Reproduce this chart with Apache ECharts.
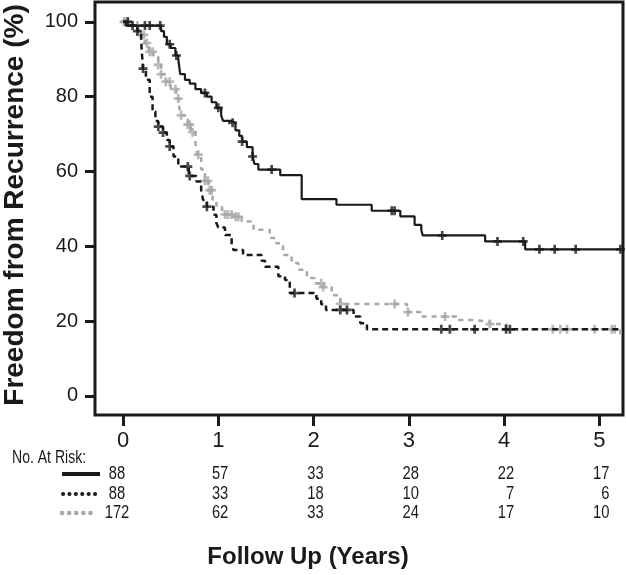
<!DOCTYPE html>
<html><head><meta charset="utf-8">
<script src="https://cdn.jsdelivr.net/npm/echarts@6/dist/echarts.min.js"></script>
<style>html,body{margin:0;padding:0;background:#fff}#c{width:626px;height:575px}</style>
</head><body><div id="c"></div>
<script>
const xTicks = [0, 1, 2, 3, 4, 5];
const yTicks = [0, 20, 40, 60, 80, 100];

// Group 1 (solid black)
const solidT = [0, 0.03, 0.40, 0.43, 0.46, 0.50, 0.55, 0.58, 0.60, 0.65, 0.70, 0.76, 0.82, 0.88, 0.93, 0.98, 1.03, 1.05, 1.13, 1.18, 1.22, 1.25, 1.30, 1.36, 1.38, 1.42, 1.65, 1.875, 2.24, 2.61, 2.91, 3.06, 3.13, 3.145, 3.80, 4.22, 5.23];
const solidS = [100, 99, 97.5, 96, 94, 93, 91, 90, 86, 84.5, 83.5, 82, 81, 80, 78.5, 77, 75, 73.5, 73, 71, 69.5, 68, 66.5, 64, 62, 60.5, 59, 52.6, 51.1, 49.5, 48, 45.7, 44.4, 42.9, 41.3, 39.2, 39.2];
const solidCensor = [0.10, 0.23, 0.28, 0.39, 0.49, 0.56, 0.86, 1.0, 1.15, 1.25, 1.36, 1.56, 2.82, 2.85, 3.35, 3.93, 4.20, 4.37, 4.53, 4.75, 5.22];

// Group 2 (dashed black)
const dashT = [0, 0.08, 0.15, 0.19, 0.20, 0.21, 0.24, 0.28, 0.31, 0.34, 0.37, 0.42, 0.46, 0.49, 0.53, 0.58, 0.69, 0.77, 0.82, 0.84, 0.88, 0.95, 0.98, 1.0, 1.07, 1.14, 1.16, 1.26, 1.455, 1.49, 1.63, 1.70, 1.75, 2.03, 2.08, 2.13, 2.42, 2.49, 2.56, 5.23];
const dashS = [100, 99, 97.5, 95, 91, 87.5, 84.5, 80, 76, 73.5, 72, 70.4, 68.4, 66.7, 64, 61.3, 58.8, 57.3, 55, 52.4, 50.6, 48.4, 46.2, 45, 43, 40.5, 39, 37.7, 36.1, 34.5, 32, 31, 27.5, 26, 24.5, 23, 21.2, 19.4, 17.8, 17.8];
const dashCensor = [0.05, 0.15, 0.21, 0.37, 0.42, 0.49, 0.68, 0.70, 0.88, 1.80, 2.28, 2.35, 3.34, 3.43, 3.69, 4.02, 4.06];

// Group 3 (dashed grey)
const greyT = [0, 0.07, 0.16, 0.19, 0.23, 0.27, 0.32, 0.37, 0.40, 0.45, 0.50, 0.56, 0.59, 0.61, 0.68, 0.71, 0.76, 0.78, 0.82, 0.86, 0.90, 0.94, 0.98, 1.04, 1.16, 1.245, 1.37, 1.54, 1.61, 1.68, 1.77, 1.84, 1.93, 2.01, 2.10, 2.19, 2.28, 2.98, 3.12, 3.50, 3.68, 3.85, 4.02, 5.22];
const greyS = [100, 99, 97.5, 96.5, 94.3, 92, 90.7, 88.5, 86, 84, 82, 79.5, 77, 75, 72.5, 70.5, 67.5, 64.5, 60.5, 57.5, 55, 52.5, 50.5, 48.5, 47.9, 46.6, 44.4, 42.2, 40.8, 37.7, 35.5, 33.7, 31.5, 30.1, 29.1, 26.9, 24.6, 22.4, 21.2, 20.3, 19.8, 19.2, 17.8, 15.5];
const greyCensor = [0.01, 0.02, 0.05, 0.15, 0.19, 0.22, 0.25, 0.28, 0.31, 0.37, 0.40, 0.45, 0.49, 0.55, 0.58, 0.61, 0.68, 0.70, 0.73, 0.79, 0.86, 0.89, 0.91, 0.93, 1.07, 1.10, 1.14, 1.18, 1.21, 2.08, 2.10, 2.28, 2.85, 2.99, 3.38, 3.85, 4.51, 4.59, 4.66, 4.95, 5.13, 5.16];

// Numbers at risk
const riskSolid = [88, 57, 33, 28, 22, 17];
const riskDashed = [88, 33, 18, 10, 7, 6];
const riskGrey = [172, 62, 33, 24, 17, 10];

const BLACK = '#1a1a1a';
const GREY = '#a8a8a8';
const FONT = "'Liberation Sans', Arial, Helvetica, sans-serif";
const PLUS = 'path://M3.5,0h3v3.5h3.5v3h-3.5v3.5h-3v-3.5h-3.5v-3h3.5z';

function pairs(T, S) { return T.map((t, i) => [t, S[i]]); }
function levelAt(T, S, t) {
  let v = S[0];
  for (let i = 0; i < T.length; i++) { if (T[i] <= t) v = S[i]; else break; }
  return v;
}
function censor(T, S, C) { return C.map(t => [t, levelAt(T, S, t)]); }

const chart = echarts.init(document.getElementById('c'), null, { renderer: 'canvas' });

const option = {
  animation: false,
  backgroundColor: '#fff',
  grid: { left: 95, right: 3, top: 2, bottom: 160, show: true, borderColor: BLACK, borderWidth: 3, backgroundColor: 'transparent' },
  xAxis: {
    type: 'value', min: -0.294, max: 5.247,
    axisLine: { show: false, onZero: false },
    splitLine: { show: false },
    axisTick: { show: true, inside: false, length: 11, lineStyle: { color: BLACK, width: 3 }, customValues: xTicks },
    axisLabel: { show: true, margin: 15, fontSize: 22, color: BLACK, fontFamily: FONT, customValues: xTicks }
  },
  yAxis: {
    type: 'value', min: -5.1, max: 105.3,
    axisLine: { show: false, onZero: false },
    splitLine: { show: false },
    axisTick: { show: true, inside: false, length: 10, lineStyle: { color: BLACK, width: 3 }, customValues: yTicks },
    axisLabel: { show: true, margin: 17, fontSize: 20, color: BLACK, fontFamily: FONT, customValues: yTicks }
  },
  series: [
    { type: 'line', step: 'end', symbol: 'none', data: pairs(greyT, greyS), lineStyle: { color: GREY, width: 2.5, type: [5, 5] }, z: 2 },
    { type: 'scatter', symbol: PLUS, symbolSize: 9, data: censor(greyT, greyS, greyCensor), itemStyle: { color: GREY }, z: 3 },
    { type: 'line', step: 'end', symbol: 'none', data: pairs(dashT, dashS), lineStyle: { color: BLACK, width: 2.5, type: [6, 4] }, z: 4 },
    { type: 'scatter', symbol: PLUS, symbolSize: 9, data: censor(dashT, dashS, dashCensor), itemStyle: { color: BLACK }, z: 5 },
    { type: 'line', step: 'end', symbol: 'none', data: pairs(solidT, solidS), lineStyle: { color: BLACK, width: 2.2 }, z: 6 },
    { type: 'scatter', symbol: PLUS, symbolSize: 9, data: censor(solidT, solidS, solidCensor), itemStyle: { color: BLACK }, z: 7 }
  ]
};
chart.setOption(option);

// At-risk table and titles
const rowsY = [474, 494, 513];
const rows = [riskSolid, riskDashed, riskGrey];
const g = [];
g.push({ type: 'text', x: 15, y: 205, rotation: Math.PI / 2,
  style: { text: 'Freedom from Recurrence (%)', font: "bold 28px " + FONT, fill: BLACK, align: 'center', verticalAlign: 'middle' } });
g.push({ type: 'text', x: 308, y: 557,
  style: { text: 'Follow Up (Years)', font: "bold 24px " + FONT, fill: BLACK, align: 'center', verticalAlign: 'middle' } });
g.push({ type: 'text', x: 12, y: 458, scaleX: 0.78, originX: 0, originY: 0,
  style: { text: 'No. At Risk:', font: "18px " + FONT, fill: BLACK, align: 'left', verticalAlign: 'middle' } });
// line samples
g.push({ type: 'line', shape: { x1: 62, y1: 474, x2: 100, y2: 474 }, style: { stroke: BLACK, lineWidth: 4 } });
g.push({ type: 'line', shape: { x1: 63, y1: 494, x2: 100, y2: 494 }, style: { stroke: BLACK, lineWidth: 4, lineDash: [0.1, 6.3], lineCap: 'round' } });
g.push({ type: 'line', shape: { x1: 62, y1: 513, x2: 95, y2: 513 }, style: { stroke: GREY, lineWidth: 4.5, lineDash: [0.1, 7], lineCap: 'round' } });
xTicks.forEach((t, ci) => {
  const px = chart.convertToPixel({ xAxisIndex: 0 }, t);
  rows.forEach((r, ri) => {
    const isFirst = ci === 0;
    const x = isFirst ? px - 6 : px + 10;
    g.push({ type: 'text', x: x, y: rowsY[ri], scaleX: 0.82, originX: 0, originY: 0,
      style: { text: String(r[ci]), font: "18px " + FONT, fill: BLACK, align: isFirst ? 'center' : 'right', verticalAlign: 'middle' } });
  });
});
chart.setOption({ graphic: g });
</script>
</body></html>
